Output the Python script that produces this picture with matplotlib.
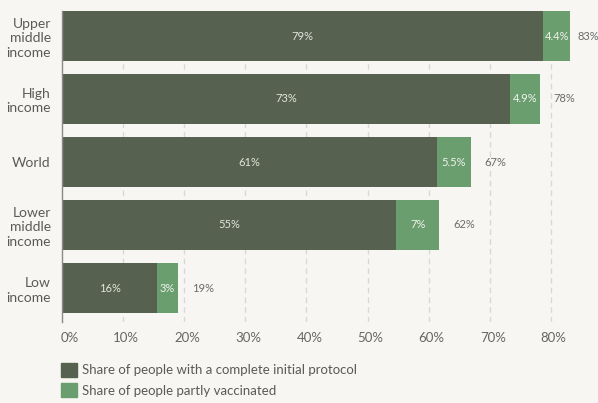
import matplotlib.pyplot as plt
import matplotlib.transforms as mtransforms
from matplotlib.patches import Patch

plt.rcParams['font.family'] = ['Lato', 'DejaVu Sans']

# data
groups = ["Upper\nmiddle\nincome", "High\nincome", "World", "Lower\nmiddle\nincome", "Low\nincome"]
complete = [78.8, 73.3, 61.4, 54.7, 15.6]
partly = [4.4, 4.9, 5.5, 7.0, 3.4]
complete_labels = ["79%", "73%", "61%", "55%", "16%"]
partly_labels = ["4.4%", "4.9%", "5.5%", "7%", "3%"]
total_labels = ["83%", "78%", "67%", "62%", "19%"]
xticks = [0, 10, 20, 30, 40, 50, 60, 70, 80]

dark = "#56624f"
light = "#6b9e6f"
bg = "#f7f6f2"
text_col = "#5a5a5a"

fig = plt.figure(figsize=(5.98, 4.03), dpi=100, facecolor=bg)
ax = fig.add_axes([62 / 598, 1 - 322 / 403, 1 - 62 / 598, (322 - 11) / 403])
ax.set_facecolor(bg)

y = list(range(len(groups)))
h = 50 / 63
ax.barh(y, complete, height=h, color=dark, zorder=3)
ax.barh(y, partly, left=complete, height=h, color=light, zorder=3)

for i in y:
    ax.text(complete[i] / 2, i, complete_labels[i], ha="center", va="center",
            fontsize=8, color="#e2e5de", zorder=4)
    ax.text(complete[i] + partly[i] / 2, i, partly_labels[i], ha="center", va="center",
            fontsize=8, color="#f0f3ed", zorder=4)
    tot = complete[i] + partly[i]
    ax.text(min(tot + 2.3, 84.3), i, total_labels[i], ha="left", va="center",
            fontsize=8, color="#6b6b6b", zorder=4)

ax.set_xlim(0, 536 / 6.11)
ax.set_ylim(286 / 63, -25 / 63)
ax.set_yticks(y)
ax.set_yticklabels(groups, fontsize=10, color=text_col)
for lab in ax.get_yticklabels():
    lab.set_multialignment("right")
    lab.set_linespacing(1.25)
ax.set_xticks(xticks)
ax.set_xticklabels([f"{t}%" for t in xticks], fontsize=9.5, color="#666666")
ax.tick_params(length=0, axis="y", pad=8)
ax.tick_params(length=0, axis="x", pad=7)

shift = mtransforms.ScaledTranslation(3 / 100, 0, fig.dpi_scale_trans)
for j, lab in enumerate(ax.get_xticklabels()):
    if j == 0:
        lab.set_ha("left")
        lab.set_transform(lab.get_transform() + mtransforms.ScaledTranslation(-1 / 100, 0, fig.dpi_scale_trans))
    else:
        lab.set_transform(lab.get_transform() + shift)

for t in xticks[1:]:
    ax.axvline(t, color="#d8d8d8", lw=1, ls=(0, (4, 3)), zorder=1)

for s in ["top", "right", "bottom"]:
    ax.spines[s].set_visible(False)
ax.spines["left"].set_color("#8a8a8a")
ax.spines["left"].set_linewidth(1)
ax.spines["left"].set_zorder(5)

handles = [Patch(color=dark, label="Share of people with a complete initial protocol"),
           Patch(color=light, label="Share of people partly vaccinated")]
fig.legend(handles=handles, loc="upper left", bbox_to_anchor=(56 / 598, 1 - 358 / 403),
           frameon=False, fontsize=9.5, handlelength=1.2, handleheight=1.2,
           handletextpad=0.4, labelspacing=0.5, labelcolor=text_col, borderaxespad=0)

fig.savefig("out.png", dpi=100, facecolor=bg)
